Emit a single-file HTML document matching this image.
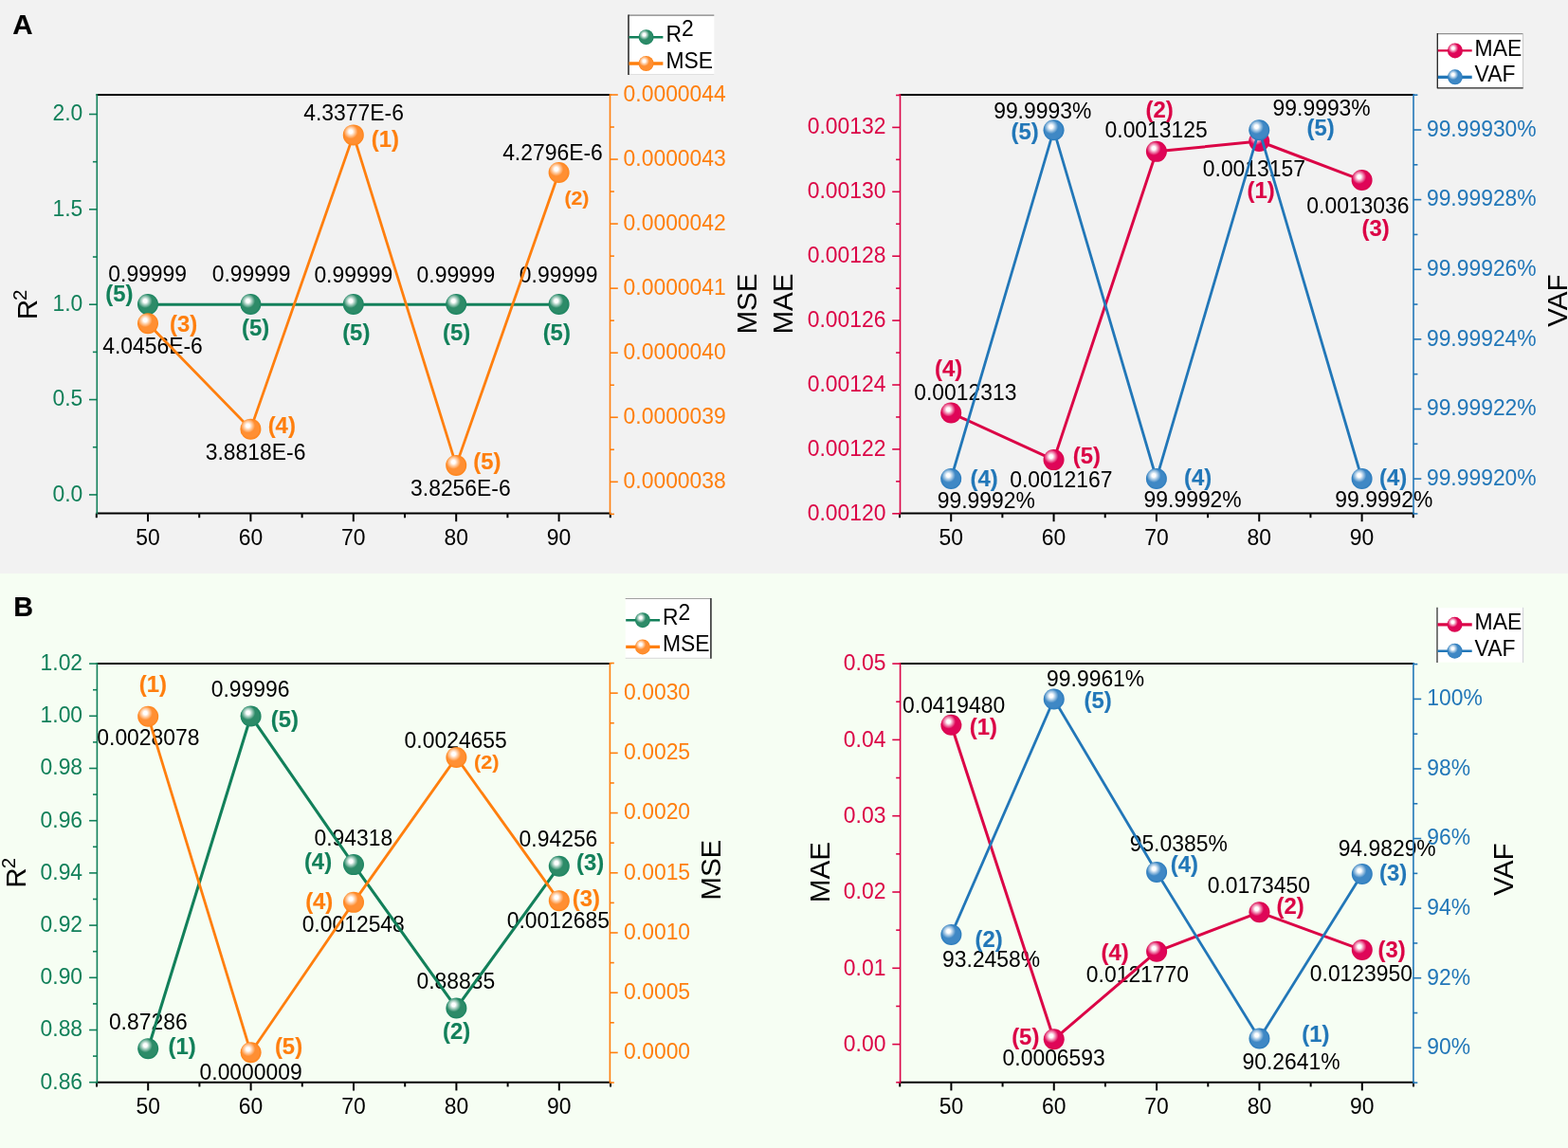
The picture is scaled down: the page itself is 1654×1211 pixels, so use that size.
<!DOCTYPE html>
<html lang="en"><head><meta charset="utf-8"><title>Figure: model metrics versus training ratio</title>
<style>html,body{margin:0;padding:0;background:#f2f2f2;}body{width:1654px;height:1211px;overflow:hidden;}svg{display:block;font-family:"Liberation Sans",sans-serif;}</style>
</head><body>
<svg width="1654" height="1211" viewBox="0 0 1654 1211">
<defs>
<radialGradient id="bG" cx="0.5" cy="0.5" r="0.5"><stop offset="0" stop-color="#2d8b68"/><stop offset="0.78" stop-color="#2d8b68"/><stop offset="1" stop-color="#1a8460"/></radialGradient>
<radialGradient id="bO" cx="0.5" cy="0.5" r="0.5"><stop offset="0" stop-color="#ff8f33"/><stop offset="0.78" stop-color="#ff8f33"/><stop offset="1" stop-color="#ff8418"/></radialGradient>
<radialGradient id="bC" cx="0.5" cy="0.5" r="0.5"><stop offset="0" stop-color="#df0558"/><stop offset="0.78" stop-color="#df0558"/><stop offset="1" stop-color="#d9044c"/></radialGradient>
<radialGradient id="bB" cx="0.5" cy="0.5" r="0.5"><stop offset="0" stop-color="#3f88c5"/><stop offset="0.78" stop-color="#3f88c5"/><stop offset="1" stop-color="#2a7bbc"/></radialGradient>
<radialGradient id="hl" cx="0.37" cy="0.34" r="0.34" fx="0.37" fy="0.34"><stop offset="0" stop-color="#fff" stop-opacity="1"/><stop offset="0.25" stop-color="#fff" stop-opacity="1"/><stop offset="0.62" stop-color="#fff" stop-opacity="0.5"/><stop offset="1" stop-color="#fff" stop-opacity="0"/></radialGradient>
</defs>
<rect x="0" y="0" width="1654" height="605" fill="#f2f2f2"/>
<rect x="0" y="605" width="1654" height="606" fill="#f6fef3"/>
<text transform="translate(13.3,35.6)" fill="#000" font-size="29.5" stroke="#000" stroke-width="0.15" font-weight="bold">A</text>
<text transform="translate(14.2,650.2)" fill="#000" font-size="28.8" stroke="#000" stroke-width="0.15" font-weight="bold">B</text>
<g id="chart-A1">
<text transform="translate(114.33,296.82) scale(1,1.01)" fill="#000" font-size="22.9">0.99999</text>
<text transform="translate(223.65,296.82) scale(1,1.01)" fill="#000" font-size="22.9">0.99999</text>
<text transform="translate(331.38,297.71) scale(1,1.01)" fill="#000" font-size="22.9">0.99999</text>
<text transform="translate(439.58,297.71) scale(1,1.01)" fill="#000" font-size="22.9">0.99999</text>
<text transform="translate(547.85,297.71) scale(1,1.01)" fill="#000" font-size="22.9">0.99999</text>
<text transform="translate(108.16,373) scale(1,1.01)" fill="#000" font-size="22.9">4.0456E-6</text>
<text transform="translate(216.76,485.14) scale(1,1.01)" fill="#000" font-size="22.9">3.8818E-6</text>
<text transform="translate(320.26,127.1) scale(1,1.01)" fill="#000" font-size="22.9">4.3377E-6</text>
<text transform="translate(433.08,523.23) scale(1,1.01)" fill="#000" font-size="22.9">3.8256E-6</text>
<text transform="translate(530.13,169.42) scale(1,1.01)" fill="#000" font-size="22.9">4.2796E-6</text>
<text transform="translate(111.33,318.38) scale(1,0.97)" fill="#12805a" font-size="23.9" stroke="#12805a" stroke-width="0.15" font-weight="bold">(5)</text>
<text transform="translate(254.99,354.06) scale(1,0.97)" fill="#12805a" font-size="23.9" stroke="#12805a" stroke-width="0.15" font-weight="bold">(5)</text>
<text transform="translate(361.14,358.57) scale(1,0.97)" fill="#12805a" font-size="23.9" stroke="#12805a" stroke-width="0.15" font-weight="bold">(5)</text>
<text transform="translate(467.06,358.57) scale(1,0.97)" fill="#12805a" font-size="23.9" stroke="#12805a" stroke-width="0.15" font-weight="bold">(5)</text>
<text transform="translate(572.65,359.17) scale(1,0.97)" fill="#12805a" font-size="23.9" stroke="#12805a" stroke-width="0.15" font-weight="bold">(5)</text>
<text transform="translate(179.06,350.43) scale(1,0.97)" fill="#ff7f0e" font-size="23.9" stroke="#ff7f0e" stroke-width="0.15" font-weight="bold">(3)</text>
<text transform="translate(282.64,456.52) scale(1,0.97)" fill="#ff7f0e" font-size="23.9" stroke="#ff7f0e" stroke-width="0.15" font-weight="bold">(4)</text>
<text transform="translate(391.73,155.31) scale(1,0.97)" fill="#ff7f0e" font-size="23.9" stroke="#ff7f0e" stroke-width="0.15" font-weight="bold">(1)</text>
<text transform="translate(499.34,494.61) scale(1,0.97)" fill="#ff7f0e" font-size="23.9" stroke="#ff7f0e" stroke-width="0.15" font-weight="bold">(5)</text>
<text transform="translate(595.4,216.38) scale(1,0.97)" fill="#ff7f0e" font-size="21.32" stroke="#ff7f0e" stroke-width="0.15" font-weight="bold">(2)</text>
<line x1="101.5" y1="100" x2="644.3" y2="100" stroke="#000" stroke-width="2.0"/>
<line x1="101.5" y1="541.6" x2="644.3" y2="541.6" stroke="#000" stroke-width="2.0"/>
<line x1="101.8" y1="541.6" x2="101.8" y2="546.2" stroke="#000" stroke-width="2.0"/>
<line x1="156" y1="541.6" x2="156" y2="550.2" stroke="#000" stroke-width="2.0"/>
<line x1="210.2" y1="541.6" x2="210.2" y2="546.2" stroke="#000" stroke-width="2.0"/>
<line x1="264.4" y1="541.6" x2="264.4" y2="550.2" stroke="#000" stroke-width="2.0"/>
<line x1="318.6" y1="541.6" x2="318.6" y2="546.2" stroke="#000" stroke-width="2.0"/>
<line x1="372.8" y1="541.6" x2="372.8" y2="550.2" stroke="#000" stroke-width="2.0"/>
<line x1="427" y1="541.6" x2="427" y2="546.2" stroke="#000" stroke-width="2.0"/>
<line x1="481.2" y1="541.6" x2="481.2" y2="550.2" stroke="#000" stroke-width="2.0"/>
<line x1="535.4" y1="541.6" x2="535.4" y2="546.2" stroke="#000" stroke-width="2.0"/>
<line x1="589.6" y1="541.6" x2="589.6" y2="550.2" stroke="#000" stroke-width="2.0"/>
<line x1="643.8" y1="541.6" x2="643.8" y2="546.2" stroke="#000" stroke-width="2.0"/>
<text transform="translate(156,574.8) scale(1,1.01)" fill="#000" font-size="22.9" text-anchor="middle">50</text>
<text transform="translate(264.4,574.8) scale(1,1.01)" fill="#000" font-size="22.9" text-anchor="middle">60</text>
<text transform="translate(372.8,574.8) scale(1,1.01)" fill="#000" font-size="22.9" text-anchor="middle">70</text>
<text transform="translate(481.2,574.8) scale(1,1.01)" fill="#000" font-size="22.9" text-anchor="middle">80</text>
<text transform="translate(589.6,574.8) scale(1,1.01)" fill="#000" font-size="22.9" text-anchor="middle">90</text>
<line x1="102.3" y1="99" x2="102.3" y2="542.6" stroke="#12805a" stroke-width="1.6"/>
<line x1="94" y1="120.5" x2="102.3" y2="120.5" stroke="#12805a" stroke-width="1.6"/>
<line x1="94" y1="220.85" x2="102.3" y2="220.85" stroke="#12805a" stroke-width="1.6"/>
<line x1="94" y1="321.2" x2="102.3" y2="321.2" stroke="#12805a" stroke-width="1.6"/>
<line x1="94" y1="421.55" x2="102.3" y2="421.55" stroke="#12805a" stroke-width="1.6"/>
<line x1="94" y1="521.9" x2="102.3" y2="521.9" stroke="#12805a" stroke-width="1.6"/>
<line x1="97.9" y1="170.68" x2="102.3" y2="170.68" stroke="#12805a" stroke-width="1.6"/>
<line x1="97.9" y1="271.02" x2="102.3" y2="271.02" stroke="#12805a" stroke-width="1.6"/>
<line x1="97.9" y1="371.38" x2="102.3" y2="371.38" stroke="#12805a" stroke-width="1.6"/>
<line x1="97.9" y1="471.72" x2="102.3" y2="471.72" stroke="#12805a" stroke-width="1.6"/>
<text transform="translate(87.25,127.3) scale(1,1.01)" fill="#12805a" font-size="22.9" text-anchor="end">2.0</text>
<text transform="translate(87.25,227.65) scale(1,1.01)" fill="#12805a" font-size="22.9" text-anchor="end">1.5</text>
<text transform="translate(87.25,328) scale(1,1.01)" fill="#12805a" font-size="22.9" text-anchor="end">1.0</text>
<text transform="translate(87.25,428.35) scale(1,1.01)" fill="#12805a" font-size="22.9" text-anchor="end">0.5</text>
<text transform="translate(87.25,528.7) scale(1,1.01)" fill="#12805a" font-size="22.9" text-anchor="end">0.0</text>
<line x1="643.5" y1="99" x2="643.5" y2="542.6" stroke="#ff7f0e" stroke-width="1.6"/>
<line x1="643.5" y1="100" x2="651.8" y2="100" stroke="#ff7f0e" stroke-width="1.6"/>
<line x1="643.5" y1="168.05" x2="651.8" y2="168.05" stroke="#ff7f0e" stroke-width="1.6"/>
<line x1="643.5" y1="236.1" x2="651.8" y2="236.1" stroke="#ff7f0e" stroke-width="1.6"/>
<line x1="643.5" y1="304.15" x2="651.8" y2="304.15" stroke="#ff7f0e" stroke-width="1.6"/>
<line x1="643.5" y1="372.2" x2="651.8" y2="372.2" stroke="#ff7f0e" stroke-width="1.6"/>
<line x1="643.5" y1="440.25" x2="651.8" y2="440.25" stroke="#ff7f0e" stroke-width="1.6"/>
<line x1="643.5" y1="508.3" x2="651.8" y2="508.3" stroke="#ff7f0e" stroke-width="1.6"/>
<line x1="643.5" y1="134.03" x2="647.9" y2="134.03" stroke="#ff7f0e" stroke-width="1.6"/>
<line x1="643.5" y1="202.07" x2="647.9" y2="202.07" stroke="#ff7f0e" stroke-width="1.6"/>
<line x1="643.5" y1="270.12" x2="647.9" y2="270.12" stroke="#ff7f0e" stroke-width="1.6"/>
<line x1="643.5" y1="338.17" x2="647.9" y2="338.17" stroke="#ff7f0e" stroke-width="1.6"/>
<line x1="643.5" y1="406.22" x2="647.9" y2="406.22" stroke="#ff7f0e" stroke-width="1.6"/>
<line x1="643.5" y1="474.27" x2="647.9" y2="474.27" stroke="#ff7f0e" stroke-width="1.6"/>
<line x1="643.5" y1="542.33" x2="647.9" y2="542.33" stroke="#ff7f0e" stroke-width="1.6"/>
<text transform="translate(657.6,106.7) scale(1,1.01)" fill="#ff7f0e" font-size="22.9">0.0000044</text>
<text transform="translate(657.6,174.75) scale(1,1.01)" fill="#ff7f0e" font-size="22.9">0.0000043</text>
<text transform="translate(657.6,242.8) scale(1,1.01)" fill="#ff7f0e" font-size="22.9">0.0000042</text>
<text transform="translate(657.6,310.85) scale(1,1.01)" fill="#ff7f0e" font-size="22.9">0.0000041</text>
<text transform="translate(657.6,378.9) scale(1,1.01)" fill="#ff7f0e" font-size="22.9">0.0000040</text>
<text transform="translate(657.6,446.95) scale(1,1.01)" fill="#ff7f0e" font-size="22.9">0.0000039</text>
<text transform="translate(657.6,515) scale(1,1.01)" fill="#ff7f0e" font-size="22.9">0.0000038</text>
<text transform="translate(39.3,321.4) rotate(-90) scale(1,1.01)" fill="#000" font-size="29.6" text-anchor="middle">R<tspan dy="-11.2" dx="-1" font-size="20.5">2</tspan></text>
<text transform="translate(797.6,320.5) rotate(-90) scale(1,1.01)" fill="#000" font-size="29.6" text-anchor="middle">MSE</text>
<polyline points="156,321.2 264.4,321.2 372.8,321.2 481.2,321.2 589.6,321.2" fill="none" stroke="#12805a" stroke-width="3.1" stroke-linejoin="round"/>
<circle cx="156" cy="321" r="11.0" fill="url(#bG)"/>
<circle cx="156" cy="321" r="11.0" fill="url(#hl)"/>
<circle cx="264.4" cy="321" r="11.0" fill="url(#bG)"/>
<circle cx="264.4" cy="321" r="11.0" fill="url(#hl)"/>
<circle cx="372.8" cy="321" r="11.0" fill="url(#bG)"/>
<circle cx="372.8" cy="321" r="11.0" fill="url(#hl)"/>
<circle cx="481.2" cy="321" r="11.0" fill="url(#bG)"/>
<circle cx="481.2" cy="321" r="11.0" fill="url(#hl)"/>
<circle cx="589.6" cy="321" r="11.0" fill="url(#bG)"/>
<circle cx="589.6" cy="321" r="11.0" fill="url(#hl)"/>
<polyline points="156,341.17 264.4,452.64 372.8,142.4 481.2,490.88 589.6,181.93" fill="none" stroke="#ff7f0e" stroke-width="2.8" stroke-linejoin="round"/>
<circle cx="156" cy="341.17" r="11.0" fill="url(#bO)"/>
<circle cx="156" cy="341.17" r="11.0" fill="url(#hl)"/>
<circle cx="264.4" cy="452.64" r="11.0" fill="url(#bO)"/>
<circle cx="264.4" cy="452.64" r="11.0" fill="url(#hl)"/>
<circle cx="372.8" cy="142.4" r="11.0" fill="url(#bO)"/>
<circle cx="372.8" cy="142.4" r="11.0" fill="url(#hl)"/>
<circle cx="481.2" cy="490.88" r="11.0" fill="url(#bO)"/>
<circle cx="481.2" cy="490.88" r="11.0" fill="url(#hl)"/>
<circle cx="589.6" cy="181.93" r="11.0" fill="url(#bO)"/>
<circle cx="589.6" cy="181.93" r="11.0" fill="url(#hl)"/>
<rect x="663" y="16.1" width="90.3" height="62.4" fill="#ffffff"/>
<line x1="663" y1="16.1" x2="753.3" y2="16.1" stroke="#808080" stroke-width="1.2"/>
<line x1="663" y1="78.5" x2="753.3" y2="78.5" stroke="#e0e0e0" stroke-width="1"/>
<line x1="663" y1="15.6" x2="663" y2="79" stroke="#222" stroke-width="1.5"/>
<line x1="663.5" y1="39.2" x2="699.4" y2="39.2" stroke="#12805a" stroke-width="2.6"/>
<circle cx="681.6" cy="39.2" r="8.0" fill="url(#bG)"/>
<circle cx="681.6" cy="39.2" r="8.0" fill="url(#hl)"/>
<text transform="translate(702.5,44) scale(1,1.01)" fill="#000" font-size="22.9">R<tspan dy="-5.6">2</tspan></text>
<line x1="663.5" y1="67" x2="699.4" y2="67" stroke="#ff7f0e" stroke-width="3.3"/>
<circle cx="681.6" cy="67" r="8.0" fill="url(#bO)"/>
<circle cx="681.6" cy="67" r="8.0" fill="url(#hl)"/>
<text transform="translate(702.5,72.2) scale(1,1.01)" fill="#000" font-size="22.9">MSE</text>
</g>
<g id="chart-A2">
<text transform="translate(964.25,421.5) scale(1,1.01)" fill="#000" font-size="22.9">0.0012313</text>
<text transform="translate(1065.21,513.79) scale(1,1.01)" fill="#000" font-size="22.9">0.0012167</text>
<text transform="translate(1165.56,145.24) scale(1,1.01)" fill="#000" font-size="22.9">0.0013125</text>
<text transform="translate(1268.81,186.35) scale(1,1.01)" fill="#000" font-size="22.9">0.0013157</text>
<text transform="translate(1378.34,225.21) scale(1,1.01)" fill="#000" font-size="22.9">0.0013036</text>
<text transform="translate(988.69,535.77) scale(1,1.01)" fill="#000" font-size="22.9">99.9992%</text>
<text transform="translate(1048.16,124.68) scale(1,1.01)" fill="#000" font-size="22.9">99.9993%</text>
<text transform="translate(1206.62,534.82) scale(1,1.01)" fill="#000" font-size="22.9">99.9992%</text>
<text transform="translate(1342.62,121.82) scale(1,1.01)" fill="#000" font-size="22.9">99.9993%</text>
<text transform="translate(1408.34,534.82) scale(1,1.01)" fill="#000" font-size="22.9">99.9992%</text>
<text transform="translate(986.11,397.41) scale(1,0.97)" fill="#db0446" font-size="23.9" stroke="#db0446" stroke-width="0.15" font-weight="bold">(4)</text>
<text transform="translate(1131.73,488.8) scale(1,0.97)" fill="#db0446" font-size="23.9" stroke="#db0446" stroke-width="0.15" font-weight="bold">(5)</text>
<text transform="translate(1208.45,123.87) scale(1,0.97)" fill="#db0446" font-size="23.9" stroke="#db0446" stroke-width="0.15" font-weight="bold">(2)</text>
<text transform="translate(1315.59,208.68) scale(1,0.97)" fill="#db0446" font-size="23.9" stroke="#db0446" stroke-width="0.15" font-weight="bold">(1)</text>
<text transform="translate(1436.49,248.58) scale(1,0.97)" fill="#db0446" font-size="23.9" stroke="#db0446" stroke-width="0.15" font-weight="bold">(3)</text>
<text transform="translate(1023.59,512.59) scale(1,0.97)" fill="#2277b8" font-size="23.9" stroke="#2277b8" stroke-width="0.15" font-weight="bold">(4)</text>
<text transform="translate(1066.46,146.61) scale(1,0.97)" fill="#2277b8" font-size="23.9" stroke="#2277b8" stroke-width="0.15" font-weight="bold">(5)</text>
<text transform="translate(1249.1,511.64) scale(1,0.97)" fill="#2277b8" font-size="23.9" stroke="#2277b8" stroke-width="0.15" font-weight="bold">(4)</text>
<text transform="translate(1378.43,143.38) scale(1,0.97)" fill="#2277b8" font-size="23.9" stroke="#2277b8" stroke-width="0.15" font-weight="bold">(5)</text>
<text transform="translate(1455.03,511.64) scale(1,0.97)" fill="#2277b8" font-size="23.9" stroke="#2277b8" stroke-width="0.15" font-weight="bold">(4)</text>
<line x1="948.7" y1="100" x2="1491.8" y2="100" stroke="#000" stroke-width="2.0"/>
<line x1="948.7" y1="541.6" x2="1491.8" y2="541.6" stroke="#000" stroke-width="2.0"/>
<line x1="949.03" y1="541.6" x2="949.03" y2="546.2" stroke="#000" stroke-width="2.0"/>
<line x1="1003.2" y1="541.6" x2="1003.2" y2="550.2" stroke="#000" stroke-width="2.0"/>
<line x1="1057.38" y1="541.6" x2="1057.38" y2="546.2" stroke="#000" stroke-width="2.0"/>
<line x1="1111.55" y1="541.6" x2="1111.55" y2="550.2" stroke="#000" stroke-width="2.0"/>
<line x1="1165.72" y1="541.6" x2="1165.72" y2="546.2" stroke="#000" stroke-width="2.0"/>
<line x1="1219.9" y1="541.6" x2="1219.9" y2="550.2" stroke="#000" stroke-width="2.0"/>
<line x1="1274.07" y1="541.6" x2="1274.07" y2="546.2" stroke="#000" stroke-width="2.0"/>
<line x1="1328.25" y1="541.6" x2="1328.25" y2="550.2" stroke="#000" stroke-width="2.0"/>
<line x1="1382.42" y1="541.6" x2="1382.42" y2="546.2" stroke="#000" stroke-width="2.0"/>
<line x1="1436.6" y1="541.6" x2="1436.6" y2="550.2" stroke="#000" stroke-width="2.0"/>
<line x1="1490.77" y1="541.6" x2="1490.77" y2="546.2" stroke="#000" stroke-width="2.0"/>
<text transform="translate(1003.2,574.8) scale(1,1.01)" fill="#000" font-size="22.9" text-anchor="middle">50</text>
<text transform="translate(1111.55,574.8) scale(1,1.01)" fill="#000" font-size="22.9" text-anchor="middle">60</text>
<text transform="translate(1219.9,574.8) scale(1,1.01)" fill="#000" font-size="22.9" text-anchor="middle">70</text>
<text transform="translate(1328.25,574.8) scale(1,1.01)" fill="#000" font-size="22.9" text-anchor="middle">80</text>
<text transform="translate(1436.6,574.8) scale(1,1.01)" fill="#000" font-size="22.9" text-anchor="middle">90</text>
<line x1="949.5" y1="99" x2="949.5" y2="542.6" stroke="#db0446" stroke-width="1.6"/>
<line x1="941.2" y1="134.4" x2="949.5" y2="134.4" stroke="#db0446" stroke-width="1.6"/>
<line x1="941.2" y1="202.3" x2="949.5" y2="202.3" stroke="#db0446" stroke-width="1.6"/>
<line x1="941.2" y1="270.2" x2="949.5" y2="270.2" stroke="#db0446" stroke-width="1.6"/>
<line x1="941.2" y1="338.1" x2="949.5" y2="338.1" stroke="#db0446" stroke-width="1.6"/>
<line x1="941.2" y1="406" x2="949.5" y2="406" stroke="#db0446" stroke-width="1.6"/>
<line x1="941.2" y1="473.9" x2="949.5" y2="473.9" stroke="#db0446" stroke-width="1.6"/>
<line x1="941.2" y1="541.8" x2="949.5" y2="541.8" stroke="#db0446" stroke-width="1.6"/>
<line x1="945.1" y1="100.45" x2="949.5" y2="100.45" stroke="#db0446" stroke-width="1.6"/>
<line x1="945.1" y1="168.35" x2="949.5" y2="168.35" stroke="#db0446" stroke-width="1.6"/>
<line x1="945.1" y1="236.25" x2="949.5" y2="236.25" stroke="#db0446" stroke-width="1.6"/>
<line x1="945.1" y1="304.15" x2="949.5" y2="304.15" stroke="#db0446" stroke-width="1.6"/>
<line x1="945.1" y1="372.05" x2="949.5" y2="372.05" stroke="#db0446" stroke-width="1.6"/>
<line x1="945.1" y1="439.95" x2="949.5" y2="439.95" stroke="#db0446" stroke-width="1.6"/>
<line x1="945.1" y1="507.85" x2="949.5" y2="507.85" stroke="#db0446" stroke-width="1.6"/>
<text transform="translate(934.4,141.2) scale(1,1.01)" fill="#db0446" font-size="22.9" text-anchor="end">0.00132</text>
<text transform="translate(934.4,209.1) scale(1,1.01)" fill="#db0446" font-size="22.9" text-anchor="end">0.00130</text>
<text transform="translate(934.4,277) scale(1,1.01)" fill="#db0446" font-size="22.9" text-anchor="end">0.00128</text>
<text transform="translate(934.4,344.9) scale(1,1.01)" fill="#db0446" font-size="22.9" text-anchor="end">0.00126</text>
<text transform="translate(934.4,412.8) scale(1,1.01)" fill="#db0446" font-size="22.9" text-anchor="end">0.00124</text>
<text transform="translate(934.4,480.7) scale(1,1.01)" fill="#db0446" font-size="22.9" text-anchor="end">0.00122</text>
<text transform="translate(934.4,548.6) scale(1,1.01)" fill="#db0446" font-size="22.9" text-anchor="end">0.00120</text>
<line x1="1491" y1="99" x2="1491" y2="542.6" stroke="#2277b8" stroke-width="1.6"/>
<line x1="1491" y1="137" x2="1499.3" y2="137" stroke="#2277b8" stroke-width="1.6"/>
<line x1="1491" y1="210.62" x2="1499.3" y2="210.62" stroke="#2277b8" stroke-width="1.6"/>
<line x1="1491" y1="284.24" x2="1499.3" y2="284.24" stroke="#2277b8" stroke-width="1.6"/>
<line x1="1491" y1="357.86" x2="1499.3" y2="357.86" stroke="#2277b8" stroke-width="1.6"/>
<line x1="1491" y1="431.48" x2="1499.3" y2="431.48" stroke="#2277b8" stroke-width="1.6"/>
<line x1="1491" y1="505.1" x2="1499.3" y2="505.1" stroke="#2277b8" stroke-width="1.6"/>
<line x1="1491" y1="100.19" x2="1495.4" y2="100.19" stroke="#2277b8" stroke-width="1.6"/>
<line x1="1491" y1="173.81" x2="1495.4" y2="173.81" stroke="#2277b8" stroke-width="1.6"/>
<line x1="1491" y1="247.43" x2="1495.4" y2="247.43" stroke="#2277b8" stroke-width="1.6"/>
<line x1="1491" y1="321.05" x2="1495.4" y2="321.05" stroke="#2277b8" stroke-width="1.6"/>
<line x1="1491" y1="394.67" x2="1495.4" y2="394.67" stroke="#2277b8" stroke-width="1.6"/>
<line x1="1491" y1="468.29" x2="1495.4" y2="468.29" stroke="#2277b8" stroke-width="1.6"/>
<line x1="1491" y1="541.91" x2="1495.4" y2="541.91" stroke="#2277b8" stroke-width="1.6"/>
<text transform="translate(1504.9,143.7) scale(1,1.01)" fill="#2277b8" font-size="22.9">99.99930%</text>
<text transform="translate(1504.9,217.32) scale(1,1.01)" fill="#2277b8" font-size="22.9">99.99928%</text>
<text transform="translate(1504.9,290.94) scale(1,1.01)" fill="#2277b8" font-size="22.9">99.99926%</text>
<text transform="translate(1504.9,364.56) scale(1,1.01)" fill="#2277b8" font-size="22.9">99.99924%</text>
<text transform="translate(1504.9,438.18) scale(1,1.01)" fill="#2277b8" font-size="22.9">99.99922%</text>
<text transform="translate(1504.9,511.8) scale(1,1.01)" fill="#2277b8" font-size="22.9">99.99920%</text>
<text transform="translate(835.6,320.5) rotate(-90) scale(1,1.01)" fill="#000" font-size="29.6" text-anchor="middle">MAE</text>
<text transform="translate(1652.8,317.2) rotate(-90) scale(1,1.01)" fill="#000" font-size="29.6" text-anchor="middle">VAF</text>
<polyline points="1003.2,435.54 1111.55,485.1 1219.9,159.86 1328.25,149 1436.6,190.08" fill="none" stroke="#db0446" stroke-width="3.0" stroke-linejoin="round"/>
<circle cx="1003.2" cy="435.54" r="11.0" fill="url(#bC)"/>
<circle cx="1003.2" cy="435.54" r="11.0" fill="url(#hl)"/>
<circle cx="1111.55" cy="485.1" r="11.0" fill="url(#bC)"/>
<circle cx="1111.55" cy="485.1" r="11.0" fill="url(#hl)"/>
<circle cx="1219.9" cy="159.86" r="11.0" fill="url(#bC)"/>
<circle cx="1219.9" cy="159.86" r="11.0" fill="url(#hl)"/>
<circle cx="1328.25" cy="149" r="11.0" fill="url(#bC)"/>
<circle cx="1328.25" cy="149" r="11.0" fill="url(#hl)"/>
<circle cx="1436.6" cy="190.08" r="11.0" fill="url(#bC)"/>
<circle cx="1436.6" cy="190.08" r="11.0" fill="url(#hl)"/>
<polyline points="1003.2,505 1111.55,137.2 1219.9,505 1328.25,137.2 1436.6,505" fill="none" stroke="#2277b8" stroke-width="2.8" stroke-linejoin="round"/>
<circle cx="1003.2" cy="505" r="11.0" fill="url(#bB)"/>
<circle cx="1003.2" cy="505" r="11.0" fill="url(#hl)"/>
<circle cx="1111.55" cy="137.2" r="11.0" fill="url(#bB)"/>
<circle cx="1111.55" cy="137.2" r="11.0" fill="url(#hl)"/>
<circle cx="1219.9" cy="505" r="11.0" fill="url(#bB)"/>
<circle cx="1219.9" cy="505" r="11.0" fill="url(#hl)"/>
<circle cx="1328.25" cy="137.2" r="11.0" fill="url(#bB)"/>
<circle cx="1328.25" cy="137.2" r="11.0" fill="url(#hl)"/>
<circle cx="1436.6" cy="505" r="11.0" fill="url(#bB)"/>
<circle cx="1436.6" cy="505" r="11.0" fill="url(#hl)"/>
<rect x="1516.3" y="35.6" width="90.3" height="57.2" fill="#ffffff"/>
<line x1="1516.3" y1="35.6" x2="1606.6" y2="35.6" stroke="#909090" stroke-width="1.2"/>
<line x1="1606.6" y1="35.1" x2="1606.6" y2="93.3" stroke="#c8c8c8" stroke-width="1"/>
<line x1="1516.3" y1="92.8" x2="1606.6" y2="92.8" stroke="#222" stroke-width="1.2"/>
<line x1="1516.3" y1="35.1" x2="1516.3" y2="93.3" stroke="#222" stroke-width="1.3"/>
<line x1="1516.8" y1="53.4" x2="1552.7" y2="53.4" stroke="#db0446" stroke-width="2.4"/>
<circle cx="1534.9" cy="53.4" r="8.0" fill="url(#bC)"/>
<circle cx="1534.9" cy="53.4" r="8.0" fill="url(#hl)"/>
<text transform="translate(1555.6,58.6) scale(1,1.01)" fill="#000" font-size="22.9">MAE</text>
<line x1="1516.8" y1="81.3" x2="1552.7" y2="81.3" stroke="#2277b8" stroke-width="3.3"/>
<circle cx="1534.9" cy="81.3" r="8.0" fill="url(#bB)"/>
<circle cx="1534.9" cy="81.3" r="8.0" fill="url(#hl)"/>
<text transform="translate(1555.6,86.1) scale(1,1.01)" fill="#000" font-size="22.9">VAF</text>
</g>
<g id="chart-B1">
<text transform="translate(114.89,1086.4) scale(1,1.01)" fill="#000" font-size="22.9">0.87286</text>
<text transform="translate(222.75,734.8) scale(1,1.01)" fill="#000" font-size="22.9">0.99996</text>
<text transform="translate(331.49,891.94) scale(1,1.01)" fill="#000" font-size="22.9">0.94318</text>
<text transform="translate(439.42,1042.82) scale(1,1.01)" fill="#000" font-size="22.9">0.88835</text>
<text transform="translate(547.62,892.91) scale(1,1.01)" fill="#000" font-size="22.9">0.94256</text>
<text transform="translate(102.29,786.19) scale(1,1.01)" fill="#000" font-size="22.9">0.0028078</text>
<text transform="translate(210.54,1139) scale(1,1.01)" fill="#000" font-size="22.9">0.0000009</text>
<text transform="translate(318.63,982.63) scale(1,1.01)" fill="#000" font-size="22.9">0.0012548</text>
<text transform="translate(426.62,788.63) scale(1,1.01)" fill="#000" font-size="22.9">0.0024655</text>
<text transform="translate(534.74,978.76) scale(1,1.01)" fill="#000" font-size="22.9">0.0012685</text>
<text transform="translate(177.6,1111.59) scale(1,0.97)" fill="#12805a" font-size="23.9" stroke="#12805a" stroke-width="0.15" font-weight="bold">(1)</text>
<text transform="translate(285.69,766.64) scale(1,0.97)" fill="#12805a" font-size="23.9" stroke="#12805a" stroke-width="0.15" font-weight="bold">(5)</text>
<text transform="translate(320.91,916.52) scale(1,0.97)" fill="#12805a" font-size="23.9" stroke="#12805a" stroke-width="0.15" font-weight="bold">(4)</text>
<text transform="translate(466.93,1095.82) scale(1,0.97)" fill="#12805a" font-size="23.9" stroke="#12805a" stroke-width="0.15" font-weight="bold">(2)</text>
<text transform="translate(608.01,917.73) scale(1,0.97)" fill="#12805a" font-size="23.9" stroke="#12805a" stroke-width="0.15" font-weight="bold">(3)</text>
<text transform="translate(146.81,729.88) scale(1,0.97)" fill="#ff7f0e" font-size="23.9" stroke="#ff7f0e" stroke-width="0.15" font-weight="bold">(1)</text>
<text transform="translate(289.92,1111.59) scale(1,0.97)" fill="#ff7f0e" font-size="23.9" stroke="#ff7f0e" stroke-width="0.15" font-weight="bold">(5)</text>
<text transform="translate(322.13,958.84) scale(1,0.97)" fill="#ff7f0e" font-size="23.9" stroke="#ff7f0e" stroke-width="0.15" font-weight="bold">(4)</text>
<text transform="translate(499.95,811.03) scale(1,0.97)" fill="#ff7f0e" font-size="21.65" stroke="#ff7f0e" stroke-width="0.15" font-weight="bold">(2)</text>
<text transform="translate(603.79,956.43) scale(1,0.97)" fill="#ff7f0e" font-size="23.9" stroke="#ff7f0e" stroke-width="0.15" font-weight="bold">(3)</text>
<line x1="101.6" y1="700.1" x2="644.2" y2="700.1" stroke="#000" stroke-width="2.0"/>
<line x1="101.6" y1="1141.8" x2="644.2" y2="1141.8" stroke="#000" stroke-width="2.0"/>
<line x1="102" y1="1141.8" x2="102" y2="1146.4" stroke="#000" stroke-width="2.0"/>
<line x1="156.2" y1="1141.8" x2="156.2" y2="1150.4" stroke="#000" stroke-width="2.0"/>
<line x1="210.4" y1="1141.8" x2="210.4" y2="1146.4" stroke="#000" stroke-width="2.0"/>
<line x1="264.6" y1="1141.8" x2="264.6" y2="1150.4" stroke="#000" stroke-width="2.0"/>
<line x1="318.8" y1="1141.8" x2="318.8" y2="1146.4" stroke="#000" stroke-width="2.0"/>
<line x1="373" y1="1141.8" x2="373" y2="1150.4" stroke="#000" stroke-width="2.0"/>
<line x1="427.2" y1="1141.8" x2="427.2" y2="1146.4" stroke="#000" stroke-width="2.0"/>
<line x1="481.4" y1="1141.8" x2="481.4" y2="1150.4" stroke="#000" stroke-width="2.0"/>
<line x1="535.6" y1="1141.8" x2="535.6" y2="1146.4" stroke="#000" stroke-width="2.0"/>
<line x1="589.8" y1="1141.8" x2="589.8" y2="1150.4" stroke="#000" stroke-width="2.0"/>
<line x1="644" y1="1141.8" x2="644" y2="1146.4" stroke="#000" stroke-width="2.0"/>
<text transform="translate(156.2,1174.6) scale(1,1.01)" fill="#000" font-size="22.9" text-anchor="middle">50</text>
<text transform="translate(264.6,1174.6) scale(1,1.01)" fill="#000" font-size="22.9" text-anchor="middle">60</text>
<text transform="translate(373,1174.6) scale(1,1.01)" fill="#000" font-size="22.9" text-anchor="middle">70</text>
<text transform="translate(481.4,1174.6) scale(1,1.01)" fill="#000" font-size="22.9" text-anchor="middle">80</text>
<text transform="translate(589.8,1174.6) scale(1,1.01)" fill="#000" font-size="22.9" text-anchor="middle">90</text>
<line x1="102.4" y1="699.1" x2="102.4" y2="1142.8" stroke="#12805a" stroke-width="1.6"/>
<line x1="94.1" y1="700.1" x2="102.4" y2="700.1" stroke="#12805a" stroke-width="1.6"/>
<line x1="94.1" y1="755.3" x2="102.4" y2="755.3" stroke="#12805a" stroke-width="1.6"/>
<line x1="94.1" y1="810.5" x2="102.4" y2="810.5" stroke="#12805a" stroke-width="1.6"/>
<line x1="94.1" y1="865.7" x2="102.4" y2="865.7" stroke="#12805a" stroke-width="1.6"/>
<line x1="94.1" y1="920.9" x2="102.4" y2="920.9" stroke="#12805a" stroke-width="1.6"/>
<line x1="94.1" y1="976.1" x2="102.4" y2="976.1" stroke="#12805a" stroke-width="1.6"/>
<line x1="94.1" y1="1031.3" x2="102.4" y2="1031.3" stroke="#12805a" stroke-width="1.6"/>
<line x1="94.1" y1="1086.5" x2="102.4" y2="1086.5" stroke="#12805a" stroke-width="1.6"/>
<line x1="94.1" y1="1141.7" x2="102.4" y2="1141.7" stroke="#12805a" stroke-width="1.6"/>
<line x1="98" y1="727.7" x2="102.4" y2="727.7" stroke="#12805a" stroke-width="1.6"/>
<line x1="98" y1="782.9" x2="102.4" y2="782.9" stroke="#12805a" stroke-width="1.6"/>
<line x1="98" y1="838.1" x2="102.4" y2="838.1" stroke="#12805a" stroke-width="1.6"/>
<line x1="98" y1="893.3" x2="102.4" y2="893.3" stroke="#12805a" stroke-width="1.6"/>
<line x1="98" y1="948.5" x2="102.4" y2="948.5" stroke="#12805a" stroke-width="1.6"/>
<line x1="98" y1="1003.7" x2="102.4" y2="1003.7" stroke="#12805a" stroke-width="1.6"/>
<line x1="98" y1="1058.9" x2="102.4" y2="1058.9" stroke="#12805a" stroke-width="1.6"/>
<line x1="98" y1="1114.1" x2="102.4" y2="1114.1" stroke="#12805a" stroke-width="1.6"/>
<text transform="translate(87.1,707) scale(1,1.01)" fill="#12805a" font-size="22.9" text-anchor="end">1.02</text>
<text transform="translate(87.1,762.2) scale(1,1.01)" fill="#12805a" font-size="22.9" text-anchor="end">1.00</text>
<text transform="translate(87.1,817.4) scale(1,1.01)" fill="#12805a" font-size="22.9" text-anchor="end">0.98</text>
<text transform="translate(87.1,872.6) scale(1,1.01)" fill="#12805a" font-size="22.9" text-anchor="end">0.96</text>
<text transform="translate(87.1,927.8) scale(1,1.01)" fill="#12805a" font-size="22.9" text-anchor="end">0.94</text>
<text transform="translate(87.1,983) scale(1,1.01)" fill="#12805a" font-size="22.9" text-anchor="end">0.92</text>
<text transform="translate(87.1,1038.2) scale(1,1.01)" fill="#12805a" font-size="22.9" text-anchor="end">0.90</text>
<text transform="translate(87.1,1093.4) scale(1,1.01)" fill="#12805a" font-size="22.9" text-anchor="end">0.88</text>
<text transform="translate(87.1,1148.6) scale(1,1.01)" fill="#12805a" font-size="22.9" text-anchor="end">0.86</text>
<line x1="643.4" y1="699.1" x2="643.4" y2="1142.8" stroke="#ff7f0e" stroke-width="1.6"/>
<line x1="643.4" y1="731.14" x2="651.7" y2="731.14" stroke="#ff7f0e" stroke-width="1.6"/>
<line x1="643.4" y1="794.35" x2="651.7" y2="794.35" stroke="#ff7f0e" stroke-width="1.6"/>
<line x1="643.4" y1="857.56" x2="651.7" y2="857.56" stroke="#ff7f0e" stroke-width="1.6"/>
<line x1="643.4" y1="920.77" x2="651.7" y2="920.77" stroke="#ff7f0e" stroke-width="1.6"/>
<line x1="643.4" y1="983.98" x2="651.7" y2="983.98" stroke="#ff7f0e" stroke-width="1.6"/>
<line x1="643.4" y1="1047.19" x2="651.7" y2="1047.19" stroke="#ff7f0e" stroke-width="1.6"/>
<line x1="643.4" y1="1110.4" x2="651.7" y2="1110.4" stroke="#ff7f0e" stroke-width="1.6"/>
<line x1="643.4" y1="699.54" x2="647.8" y2="699.54" stroke="#ff7f0e" stroke-width="1.6"/>
<line x1="643.4" y1="762.75" x2="647.8" y2="762.75" stroke="#ff7f0e" stroke-width="1.6"/>
<line x1="643.4" y1="825.96" x2="647.8" y2="825.96" stroke="#ff7f0e" stroke-width="1.6"/>
<line x1="643.4" y1="889.17" x2="647.8" y2="889.17" stroke="#ff7f0e" stroke-width="1.6"/>
<line x1="643.4" y1="952.38" x2="647.8" y2="952.38" stroke="#ff7f0e" stroke-width="1.6"/>
<line x1="643.4" y1="1015.59" x2="647.8" y2="1015.59" stroke="#ff7f0e" stroke-width="1.6"/>
<line x1="643.4" y1="1078.8" x2="647.8" y2="1078.8" stroke="#ff7f0e" stroke-width="1.6"/>
<line x1="643.4" y1="1142.01" x2="647.8" y2="1142.01" stroke="#ff7f0e" stroke-width="1.6"/>
<text transform="translate(658.1,737.94) scale(1,1.01)" fill="#ff7f0e" font-size="22.9">0.0030</text>
<text transform="translate(658.1,801.15) scale(1,1.01)" fill="#ff7f0e" font-size="22.9">0.0025</text>
<text transform="translate(658.1,864.36) scale(1,1.01)" fill="#ff7f0e" font-size="22.9">0.0020</text>
<text transform="translate(658.1,927.57) scale(1,1.01)" fill="#ff7f0e" font-size="22.9">0.0015</text>
<text transform="translate(658.1,990.78) scale(1,1.01)" fill="#ff7f0e" font-size="22.9">0.0010</text>
<text transform="translate(658.1,1053.99) scale(1,1.01)" fill="#ff7f0e" font-size="22.9">0.0005</text>
<text transform="translate(658.1,1117.2) scale(1,1.01)" fill="#ff7f0e" font-size="22.9">0.0000</text>
<text transform="translate(27.2,920.8) rotate(-90) scale(1,1.01)" fill="#000" font-size="29.6" text-anchor="middle">R<tspan dy="-11.2" dx="-1" font-size="20.5">2</tspan></text>
<text transform="translate(760,917.7) rotate(-90) scale(1,1.01)" fill="#000" font-size="29.6" text-anchor="middle">MSE</text>
<polyline points="156.2,1106.21 264.6,755.41 373,912.12 481.4,1063.45 589.8,913.83" fill="none" stroke="#12805a" stroke-width="3.1" stroke-linejoin="round"/>
<circle cx="156.2" cy="1106.21" r="11.0" fill="url(#bG)"/>
<circle cx="156.2" cy="1106.21" r="11.0" fill="url(#hl)"/>
<circle cx="264.6" cy="755.41" r="11.0" fill="url(#bG)"/>
<circle cx="264.6" cy="755.41" r="11.0" fill="url(#hl)"/>
<circle cx="373" cy="912.12" r="11.0" fill="url(#bG)"/>
<circle cx="373" cy="912.12" r="11.0" fill="url(#hl)"/>
<circle cx="481.4" cy="1063.45" r="11.0" fill="url(#bG)"/>
<circle cx="481.4" cy="1063.45" r="11.0" fill="url(#hl)"/>
<circle cx="589.8" cy="913.83" r="11.0" fill="url(#bG)"/>
<circle cx="589.8" cy="913.83" r="11.0" fill="url(#hl)"/>
<polyline points="156.2,755.66 264.6,1110.29 373,951.87 481.4,798.91 589.8,950.14" fill="none" stroke="#ff7f0e" stroke-width="2.8" stroke-linejoin="round"/>
<circle cx="156.2" cy="755.66" r="11.0" fill="url(#bO)"/>
<circle cx="156.2" cy="755.66" r="11.0" fill="url(#hl)"/>
<circle cx="264.6" cy="1110.29" r="11.0" fill="url(#bO)"/>
<circle cx="264.6" cy="1110.29" r="11.0" fill="url(#hl)"/>
<circle cx="373" cy="951.87" r="11.0" fill="url(#bO)"/>
<circle cx="373" cy="951.87" r="11.0" fill="url(#hl)"/>
<circle cx="481.4" cy="798.91" r="11.0" fill="url(#bO)"/>
<circle cx="481.4" cy="798.91" r="11.0" fill="url(#hl)"/>
<circle cx="589.8" cy="950.14" r="11.0" fill="url(#bO)"/>
<circle cx="589.8" cy="950.14" r="11.0" fill="url(#hl)"/>
<rect x="659.7" y="631.5" width="90.2" height="62.8" fill="#ffffff"/>
<line x1="659.7" y1="631.5" x2="749.9" y2="631.5" stroke="#a0a0a0" stroke-width="1.2"/>
<line x1="659.7" y1="694.3" x2="749.9" y2="694.3" stroke="#d8d8d8" stroke-width="1"/>
<line x1="749.9" y1="631" x2="749.9" y2="694.8" stroke="#333" stroke-width="1.6"/>
<line x1="660.2" y1="654.2" x2="696" y2="654.2" stroke="#12805a" stroke-width="2.4"/>
<circle cx="677.9" cy="654.2" r="8.0" fill="url(#bG)"/>
<circle cx="677.9" cy="654.2" r="8.0" fill="url(#hl)"/>
<text transform="translate(698.9,659.4) scale(1,1.01)" fill="#000" font-size="22.9">R<tspan dy="-5.6">2</tspan></text>
<line x1="660.2" y1="682.4" x2="696" y2="682.4" stroke="#ff7f0e" stroke-width="3.3"/>
<circle cx="677.9" cy="682.4" r="8.0" fill="url(#bO)"/>
<circle cx="677.9" cy="682.4" r="8.0" fill="url(#hl)"/>
<text transform="translate(698.9,687.2) scale(1,1.01)" fill="#000" font-size="22.9">MSE</text>
</g>
<g id="chart-B2">
<text transform="translate(952.06,752.09) scale(1,1.01)" fill="#000" font-size="22.9">0.0419480</text>
<text transform="translate(1057.6,1123.51) scale(1,1.01)" fill="#000" font-size="22.9">0.0006593</text>
<text transform="translate(1145.84,1036.45) scale(1,1.01)" fill="#000" font-size="22.9">0.0121770</text>
<text transform="translate(1273.78,941.52) scale(1,1.01)" fill="#000" font-size="22.9">0.0173450</text>
<text transform="translate(1381.79,1035.48) scale(1,1.01)" fill="#000" font-size="22.9">0.0123950</text>
<text transform="translate(994.08,1020.35) scale(1,1.01)" fill="#000" font-size="22.9">93.2458%</text>
<text transform="translate(1104.11,723.55) scale(1,1.01)" fill="#000" font-size="22.9">99.9961%</text>
<text transform="translate(1191.66,898.23) scale(1,1.01)" fill="#000" font-size="22.9">95.0385%</text>
<text transform="translate(1310.45,1128.11) scale(1,1.01)" fill="#000" font-size="22.9">90.2641%</text>
<text transform="translate(1411.64,903.43) scale(1,1.01)" fill="#000" font-size="22.9">94.9829%</text>
<text transform="translate(1022.84,775.1) scale(1,0.97)" fill="#db0446" font-size="23.9" stroke="#db0446" stroke-width="0.15" font-weight="bold">(1)</text>
<text transform="translate(1067.17,1101.54) scale(1,0.97)" fill="#db0446" font-size="23.9" stroke="#db0446" stroke-width="0.15" font-weight="bold">(5)</text>
<text transform="translate(1161.46,1013.27) scale(1,0.97)" fill="#db0446" font-size="23.9" stroke="#db0446" stroke-width="0.15" font-weight="bold">(4)</text>
<text transform="translate(1346.49,964.29) scale(1,0.97)" fill="#db0446" font-size="23.9" stroke="#db0446" stroke-width="0.15" font-weight="bold">(2)</text>
<text transform="translate(1453.43,1009.64) scale(1,0.97)" fill="#db0446" font-size="23.9" stroke="#db0446" stroke-width="0.15" font-weight="bold">(3)</text>
<text transform="translate(1028.58,998.99) scale(1,0.97)" fill="#2277b8" font-size="23.9" stroke="#2277b8" stroke-width="0.15" font-weight="bold">(2)</text>
<text transform="translate(1143.55,746.69) scale(1,0.97)" fill="#2277b8" font-size="23.9" stroke="#2277b8" stroke-width="0.15" font-weight="bold">(5)</text>
<text transform="translate(1234.85,919.91) scale(1,0.97)" fill="#2277b8" font-size="23.9" stroke="#2277b8" stroke-width="0.15" font-weight="bold">(4)</text>
<text transform="translate(1373.23,1099.12) scale(1,0.97)" fill="#2277b8" font-size="23.9" stroke="#2277b8" stroke-width="0.15" font-weight="bold">(1)</text>
<text transform="translate(1455.09,929.22) scale(1,0.97)" fill="#2277b8" font-size="23.9" stroke="#2277b8" stroke-width="0.15" font-weight="bold">(3)</text>
<line x1="948.8" y1="700.1" x2="1491.7" y2="700.1" stroke="#000" stroke-width="2.0"/>
<line x1="948.8" y1="1141.8" x2="1491.7" y2="1141.8" stroke="#000" stroke-width="2.0"/>
<line x1="949.23" y1="1141.8" x2="949.23" y2="1146.4" stroke="#000" stroke-width="2.0"/>
<line x1="1003.4" y1="1141.8" x2="1003.4" y2="1150.4" stroke="#000" stroke-width="2.0"/>
<line x1="1057.58" y1="1141.8" x2="1057.58" y2="1146.4" stroke="#000" stroke-width="2.0"/>
<line x1="1111.75" y1="1141.8" x2="1111.75" y2="1150.4" stroke="#000" stroke-width="2.0"/>
<line x1="1165.92" y1="1141.8" x2="1165.92" y2="1146.4" stroke="#000" stroke-width="2.0"/>
<line x1="1220.1" y1="1141.8" x2="1220.1" y2="1150.4" stroke="#000" stroke-width="2.0"/>
<line x1="1274.28" y1="1141.8" x2="1274.28" y2="1146.4" stroke="#000" stroke-width="2.0"/>
<line x1="1328.45" y1="1141.8" x2="1328.45" y2="1150.4" stroke="#000" stroke-width="2.0"/>
<line x1="1382.62" y1="1141.8" x2="1382.62" y2="1146.4" stroke="#000" stroke-width="2.0"/>
<line x1="1436.8" y1="1141.8" x2="1436.8" y2="1150.4" stroke="#000" stroke-width="2.0"/>
<line x1="1490.97" y1="1141.8" x2="1490.97" y2="1146.4" stroke="#000" stroke-width="2.0"/>
<text transform="translate(1003.4,1174.6) scale(1,1.01)" fill="#000" font-size="22.9" text-anchor="middle">50</text>
<text transform="translate(1111.75,1174.6) scale(1,1.01)" fill="#000" font-size="22.9" text-anchor="middle">60</text>
<text transform="translate(1220.1,1174.6) scale(1,1.01)" fill="#000" font-size="22.9" text-anchor="middle">70</text>
<text transform="translate(1328.45,1174.6) scale(1,1.01)" fill="#000" font-size="22.9" text-anchor="middle">80</text>
<text transform="translate(1436.8,1174.6) scale(1,1.01)" fill="#000" font-size="22.9" text-anchor="middle">90</text>
<line x1="949.6" y1="699.1" x2="949.6" y2="1142.8" stroke="#db0446" stroke-width="1.6"/>
<line x1="941.3" y1="700.1" x2="949.6" y2="700.1" stroke="#db0446" stroke-width="1.6"/>
<line x1="941.3" y1="780.4" x2="949.6" y2="780.4" stroke="#db0446" stroke-width="1.6"/>
<line x1="941.3" y1="860.7" x2="949.6" y2="860.7" stroke="#db0446" stroke-width="1.6"/>
<line x1="941.3" y1="941" x2="949.6" y2="941" stroke="#db0446" stroke-width="1.6"/>
<line x1="941.3" y1="1021.3" x2="949.6" y2="1021.3" stroke="#db0446" stroke-width="1.6"/>
<line x1="941.3" y1="1101.6" x2="949.6" y2="1101.6" stroke="#db0446" stroke-width="1.6"/>
<line x1="945.2" y1="740.25" x2="949.6" y2="740.25" stroke="#db0446" stroke-width="1.6"/>
<line x1="945.2" y1="820.55" x2="949.6" y2="820.55" stroke="#db0446" stroke-width="1.6"/>
<line x1="945.2" y1="900.85" x2="949.6" y2="900.85" stroke="#db0446" stroke-width="1.6"/>
<line x1="945.2" y1="981.15" x2="949.6" y2="981.15" stroke="#db0446" stroke-width="1.6"/>
<line x1="945.2" y1="1061.45" x2="949.6" y2="1061.45" stroke="#db0446" stroke-width="1.6"/>
<line x1="945.2" y1="1141.75" x2="949.6" y2="1141.75" stroke="#db0446" stroke-width="1.6"/>
<text transform="translate(934.4,707.3) scale(1,1.01)" fill="#db0446" font-size="22.9" text-anchor="end">0.05</text>
<text transform="translate(934.4,787.6) scale(1,1.01)" fill="#db0446" font-size="22.9" text-anchor="end">0.04</text>
<text transform="translate(934.4,867.9) scale(1,1.01)" fill="#db0446" font-size="22.9" text-anchor="end">0.03</text>
<text transform="translate(934.4,948.2) scale(1,1.01)" fill="#db0446" font-size="22.9" text-anchor="end">0.02</text>
<text transform="translate(934.4,1028.5) scale(1,1.01)" fill="#db0446" font-size="22.9" text-anchor="end">0.01</text>
<text transform="translate(934.4,1108.8) scale(1,1.01)" fill="#db0446" font-size="22.9" text-anchor="end">0.00</text>
<line x1="1490.9" y1="699.1" x2="1490.9" y2="1142.8" stroke="#2277b8" stroke-width="1.6"/>
<line x1="1490.9" y1="737.4" x2="1499.2" y2="737.4" stroke="#2277b8" stroke-width="1.6"/>
<line x1="1490.9" y1="810.98" x2="1499.2" y2="810.98" stroke="#2277b8" stroke-width="1.6"/>
<line x1="1490.9" y1="884.56" x2="1499.2" y2="884.56" stroke="#2277b8" stroke-width="1.6"/>
<line x1="1490.9" y1="958.14" x2="1499.2" y2="958.14" stroke="#2277b8" stroke-width="1.6"/>
<line x1="1490.9" y1="1031.72" x2="1499.2" y2="1031.72" stroke="#2277b8" stroke-width="1.6"/>
<line x1="1490.9" y1="1105.3" x2="1499.2" y2="1105.3" stroke="#2277b8" stroke-width="1.6"/>
<line x1="1490.9" y1="700.61" x2="1495.3" y2="700.61" stroke="#2277b8" stroke-width="1.6"/>
<line x1="1490.9" y1="774.19" x2="1495.3" y2="774.19" stroke="#2277b8" stroke-width="1.6"/>
<line x1="1490.9" y1="847.77" x2="1495.3" y2="847.77" stroke="#2277b8" stroke-width="1.6"/>
<line x1="1490.9" y1="921.35" x2="1495.3" y2="921.35" stroke="#2277b8" stroke-width="1.6"/>
<line x1="1490.9" y1="994.93" x2="1495.3" y2="994.93" stroke="#2277b8" stroke-width="1.6"/>
<line x1="1490.9" y1="1068.51" x2="1495.3" y2="1068.51" stroke="#2277b8" stroke-width="1.6"/>
<line x1="1490.9" y1="1142.09" x2="1495.3" y2="1142.09" stroke="#2277b8" stroke-width="1.6"/>
<text transform="translate(1505.2,744.2) scale(1,1.01)" fill="#2277b8" font-size="22.9">100%</text>
<text transform="translate(1505.2,817.78) scale(1,1.01)" fill="#2277b8" font-size="22.9">98%</text>
<text transform="translate(1505.2,891.36) scale(1,1.01)" fill="#2277b8" font-size="22.9">96%</text>
<text transform="translate(1505.2,964.94) scale(1,1.01)" fill="#2277b8" font-size="22.9">94%</text>
<text transform="translate(1505.2,1038.52) scale(1,1.01)" fill="#2277b8" font-size="22.9">92%</text>
<text transform="translate(1505.2,1112.1) scale(1,1.01)" fill="#2277b8" font-size="22.9">90%</text>
<text transform="translate(875,920.1) rotate(-90) scale(1,1.01)" fill="#000" font-size="29.6" text-anchor="middle">MAE</text>
<text transform="translate(1595.6,917.2) rotate(-90) scale(1,1.01)" fill="#000" font-size="29.6" text-anchor="middle">VAF</text>
<polyline points="1003.4,764.76 1111.75,1096.31 1220.1,1003.82 1328.45,962.32 1436.8,1002.07" fill="none" stroke="#db0446" stroke-width="3.0" stroke-linejoin="round"/>
<circle cx="1003.4" cy="764.76" r="11.0" fill="url(#bC)"/>
<circle cx="1003.4" cy="764.76" r="11.0" fill="url(#hl)"/>
<circle cx="1111.75" cy="1096.31" r="11.0" fill="url(#bC)"/>
<circle cx="1111.75" cy="1096.31" r="11.0" fill="url(#hl)"/>
<circle cx="1220.1" cy="1003.82" r="11.0" fill="url(#bC)"/>
<circle cx="1220.1" cy="1003.82" r="11.0" fill="url(#hl)"/>
<circle cx="1328.45" cy="962.32" r="11.0" fill="url(#bC)"/>
<circle cx="1328.45" cy="962.32" r="11.0" fill="url(#hl)"/>
<circle cx="1436.8" cy="1002.07" r="11.0" fill="url(#bC)"/>
<circle cx="1436.8" cy="1002.07" r="11.0" fill="url(#hl)"/>
<polyline points="1003.4,985.89 1111.75,737.54 1220.1,919.93 1328.45,1095.58 1436.8,921.98" fill="none" stroke="#2277b8" stroke-width="2.8" stroke-linejoin="round"/>
<circle cx="1003.4" cy="985.89" r="11.0" fill="url(#bB)"/>
<circle cx="1003.4" cy="985.89" r="11.0" fill="url(#hl)"/>
<circle cx="1111.75" cy="737.54" r="11.0" fill="url(#bB)"/>
<circle cx="1111.75" cy="737.54" r="11.0" fill="url(#hl)"/>
<circle cx="1220.1" cy="919.93" r="11.0" fill="url(#bB)"/>
<circle cx="1220.1" cy="919.93" r="11.0" fill="url(#hl)"/>
<circle cx="1328.45" cy="1095.58" r="11.0" fill="url(#bB)"/>
<circle cx="1328.45" cy="1095.58" r="11.0" fill="url(#hl)"/>
<circle cx="1436.8" cy="921.98" r="11.0" fill="url(#bB)"/>
<circle cx="1436.8" cy="921.98" r="11.0" fill="url(#hl)"/>
<rect x="1516" y="641.3" width="90.6" height="57.3" fill="#ffffff"/>
<line x1="1606.6" y1="640.8" x2="1606.6" y2="699.1" stroke="#d0d0d8" stroke-width="1"/>
<line x1="1516" y1="640.8" x2="1516" y2="699.1" stroke="#222" stroke-width="1.2"/>
<line x1="1516.5" y1="658.8" x2="1552.7" y2="658.8" stroke="#db0446" stroke-width="3.3"/>
<circle cx="1534.5" cy="658.8" r="8.0" fill="url(#bC)"/>
<circle cx="1534.5" cy="658.8" r="8.0" fill="url(#hl)"/>
<text transform="translate(1555.6,663.6) scale(1,1.01)" fill="#000" font-size="22.9">MAE</text>
<line x1="1516.5" y1="686.7" x2="1552.7" y2="686.7" stroke="#2277b8" stroke-width="2.4"/>
<circle cx="1534.5" cy="686.7" r="8.0" fill="url(#bB)"/>
<circle cx="1534.5" cy="686.7" r="8.0" fill="url(#hl)"/>
<text transform="translate(1555.6,691.5) scale(1,1.01)" fill="#000" font-size="22.9">VAF</text>
</g>
</svg></body></html>
